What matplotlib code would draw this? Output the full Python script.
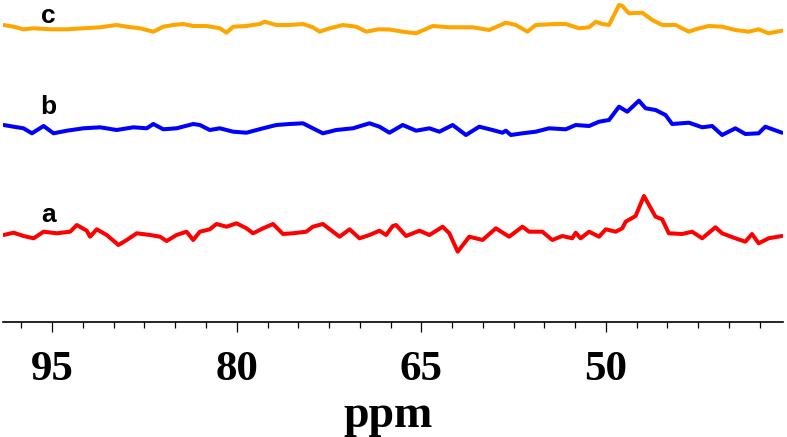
import matplotlib
matplotlib.use("Agg")
import matplotlib.pyplot as plt
from matplotlib.ticker import MultipleLocator

# ---- data ----
ppm_c = [98.95, 98.14, 97.33, 96.51, 95.16, 93.81, 92.46, 91.11, 89.76, 88.94, 87.86, 86.78, 85.97,
         85.16, 84.35, 83.54, 82.46, 81.37, 80.83, 80.29, 79.21, 78.13, 77.73, 76.78, 75.70, 74.62,
         73.81, 73.26, 72.45, 71.37, 70.29, 69.48, 68.48, 67.59, 66.51, 65.42, 64.07, 62.72, 60.83,
         59.48, 58.13, 57.32, 56.37, 55.70, 54.07, 53.26, 52.17, 51.36, 50.82, 50.28, 49.74, 48.93,
         48.66, 48.12, 47.04, 46.23, 45.42, 44.33, 43.25, 42.71, 41.63, 40.55, 39.47, 38.39, 37.58,
         36.77, 35.69]
int_c = [3.5, 1.8, -0.8, 0.2, -0.8, -0.8, 0.2, 1.2, 3.5, 1.8, 0.2, -3.2, 1.8,
         3.5, 4.5, 2.5, 2.5, 0.2, -4.2, 1.8, 2.5, 4.5, 6.8, 3.5, 3.5, 4.5,
         1.2, -3.2, 0.2, 3.5, 1.8, -3.2, -0.8, -1.0, -3.2, -4.8, 2.5, 1.2, 1.2,
         -1.5, 5.8, 3.5, -3.2, 3.5, 4.5, 4.5, 0.2, 1.2, 6.8, 4.5, 3.5, 23.5,
         22.5, 15.2, 15.8, 8.5, 3.5, 3.5, -3.2, -0.8, 2.5, 1.8, -1.5, -3.2, -0.8,
         -4.8, -2.2]

ppm_b = [98.95, 98.14, 97.33, 96.65, 95.70, 94.89, 93.81, 92.46, 91.11, 89.76, 88.40, 87.32, 86.78,
         85.97, 84.89, 83.54, 83.00, 82.19, 81.37, 80.29, 79.21, 77.86, 76.78, 75.70, 74.62, 73.54,
         73.00, 71.91, 70.56, 69.21, 68.40, 67.59, 66.51, 65.42, 64.34, 63.53, 62.45, 61.37, 60.29,
         59.21, 58.40, 58.13, 57.72, 56.78, 55.70, 54.62, 53.26, 52.45, 51.36, 50.55, 49.74, 48.93,
         48.26, 47.31, 46.77, 45.96, 45.15, 44.61, 43.25, 42.17, 41.36, 40.55, 39.47, 38.66, 37.58,
         37.04, 35.69]
int_b = [3.5, 1.8, 0.2, -4.8, 2.5, -4.8, -2.2, 0.2, 1.2, -1.5, 1.2, 0.2, 4.5,
         -0.8, 0.2, 4.5, 3.5, -1.5, 0.2, -3.2, -4.2, 0.2, 3.5, 4.5, 5.2, -1.5,
         -4.8, -1.5, 0.2, 5.2, 1.8, -4.2, 3.5, -2.2, 0.2, -3.2, 3.5, -6.5, 1.8,
         -1.5, -4.2, -2.2, -6.5, -4.8, -3.2, 0.2, -0.8, 3.5, 2.5, 6.8, 8.5, 21.8,
         16.8, 27.8, 20.2, 18.5, 13.5, 4.5, 5.8, 1.2, 2.5, -6.5, 0.2, -5.5, -4.8,
         1.8, -4.2]

ppm_a = [98.95, 98.14, 97.33, 96.51, 95.70, 94.62, 93.54, 93.00, 92.19, 91.92, 91.38, 90.57, 89.62,
         88.94, 88.13, 87.05, 86.24, 85.70, 84.89, 84.08, 83.54, 83.00, 82.19, 81.65, 80.83, 80.02,
         79.21, 78.67, 77.86, 77.05, 76.24, 75.43, 74.35, 73.81, 73.00, 72.18, 71.64, 70.83, 70.02,
         69.21, 68.40, 67.86, 67.32, 67.05, 66.24, 65.15, 64.34, 63.26, 62.72, 62.04, 61.10, 60.02,
         58.94, 57.86, 56.78, 56.24, 55.16, 54.35, 53.54, 52.73, 52.45, 52.05, 51.36, 50.55, 50.01,
         49.20, 48.66, 48.39, 47.58, 46.90, 45.96, 45.42, 44.88, 43.80, 42.99, 42.17, 41.09, 40.55,
         39.47, 38.66, 38.12, 37.58, 36.77, 35.69]
int_a = [-1.0, 1.3, -2.0, -4.3, 2.3, 0.7, 2.3, 9.0, 3.3, -2.7, 4.7, -1.0, -11.0,
         -6.0, 0.7, -1.0, -2.7, -7.0, -1.0, 2.3, -6.0, 2.3, 4.7, 10.0, 7.3, 10.7,
         5.7, 0.7, 5.7, 10.0, 0.0, 0.7, 2.3, 7.3, 10.0, 2.3, -2.7, 4.7, -4.3,
         -1.0, 3.3, -1.0, 8.0, 9.0, -2.0, 3.3, -1.0, 7.3, 0.7, -17.7, -2.7, -6.0,
         5.7, -2.7, 7.3, 2.3, 2.3, -6.0, -2.0, -4.3, 1.3, -4.3, 2.3, -2.7, 4.7,
         2.3, 5.7, 12.3, 18.0, 38.0, 17.3, 14.7, 0.7, 0.0, 2.3, -4.3, 6.7, 0.7,
         -4.3, -7.7, 0.0, -9.3, -4.3, -2.0]

labels = ["a", "b", "c"]
offsets = [88, 193.5, 293.5]
label_dy = [12.3, 14.5, 6.0]
colors = ["#FF0000", "#0000FF", "#FFA500"]
tick_labels = ["95", "80", "65", "50"]
tick_values = [95, 80, 65, 50]

# ---- figure ----
W, H = 787, 437
fig = plt.figure(figsize=(W / 100, H / 100), dpi=100)
ax = fig.add_axes([3 / W, (H - 322) / H, 780 / W, 322 / H])

series = [(ppm_a, int_a), (ppm_b, int_b), (ppm_c, int_c)]
for (x, y), off, dy, col, lab in zip(series, offsets, label_dy, colors, labels):
    ax.plot(x, [v + off for v in y], color=col, lw=2.9, solid_joinstyle="round",
            solid_capstyle="round")
    ax.text(95.3, off + dy, lab, color="black", fontsize=19, fontweight="bold",
            family="Liberation Sans", ha="center", va="baseline")

ax.set_xlim(99.0, 35.6)
ax.set_ylim(0, 322)
for s in ["top", "left", "right"]:
    ax.spines[s].set_visible(False)
ax.spines["bottom"].set_linewidth(1.2)
ax.set_yticks([])
ax.set_xticks(tick_values)
ax.set_xticklabels(tick_labels, family="Liberation Serif", fontweight="bold", fontsize=31)
ax.xaxis.set_minor_locator(MultipleLocator(2.5))
ax.tick_params(axis="x", which="major", length=7, width=0.9, pad=14)
ax.tick_params(axis="x", which="minor", length=4, width=0.9)
ax.patch.set_alpha(0)

fig.text(388 / W, (H - 427) / H, "ppm", family="Liberation Serif", fontweight="bold",
         fontsize=33, ha="center", va="baseline")

fig.savefig("out.png", dpi=100)
